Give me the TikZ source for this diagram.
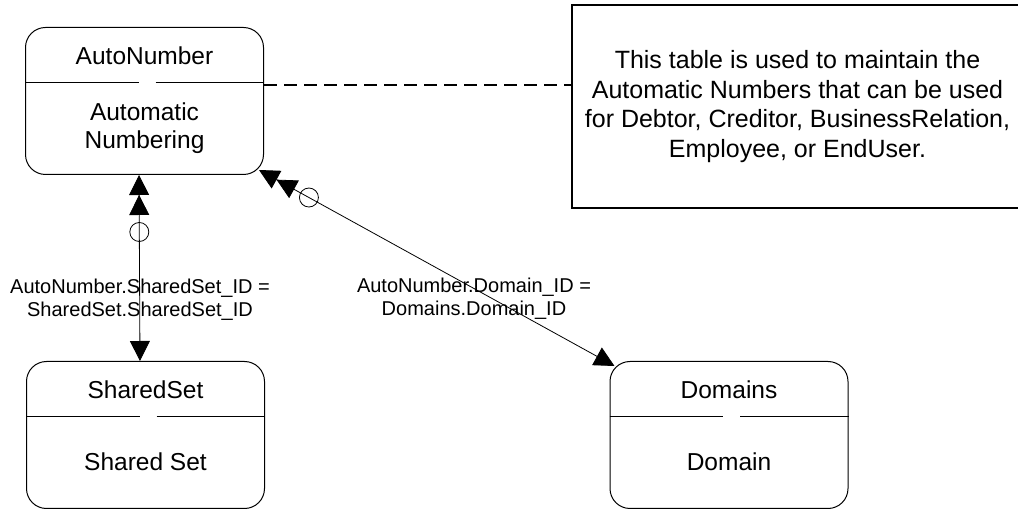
\documentclass[tikz,border=0pt]{standalone}
\usepackage{fontspec}
\setmainfont{Liberation Sans}
\usetikzlibrary{arrows.meta,calc}

\newcommand{\entfont}{\fontsize{24.5}{28.3}\selectfont}
\newcommand{\notefont}{\fontsize{25}{29.5}\selectfont}
\newcommand{\relfont}{\fontsize{20}{23}\selectfont}

\tikzset{
  entity/.style={draw, line width=1pt, rounded corners=20pt, minimum width=238pt, minimum height=147pt},
  enttext/.style={align=center, inner sep=0pt, font=\entfont},
  note/.style={draw, line width=1.2pt, minimum width=451pt, minimum height=203pt, align=center, font=\notefont},
  rel/.style={line width=0.8pt, >={Triangle[width=20pt,length=20pt]}, <->>},
  ring/.style={draw, circle, line width=0.8pt, minimum size=19pt, inner sep=0pt},
  rellabel/.style={align=center, inner sep=0pt, font=\relfont},
  noteline/.style={line width=1.6pt, dash pattern=on 13pt off 7pt}
}

\begin{document}
\begin{tikzpicture}[x=1pt,y=-1pt]
  \useasboundingbox (0,0) rectangle (1018,510);

  % tables
  \node[entity] (auto) at (144.5,101) {};
  \node[entity] (shared) at (145.5,435) {};
  \node[entity] (dom) at (729,435) {};

  \node[enttext] (autohead) at ($(auto.north)+(0,29)$) {AutoNumber};
  \node[enttext] (autobody) at ($(auto.north)+(0,101)$) {Automatic\\Numbering};
  \node[enttext] (sharedhead) at ($(shared.north)+(0,29)$) {SharedSet};
  \node[enttext] (sharedbody) at ($(shared.north)+(0,101)$) {Shared Set};
  \node[enttext] (domhead) at ($(dom.north)+(0,29)$) {Domains};
  \node[enttext] (dombody) at ($(dom.north)+(0,101)$) {Domain};

  % split lines with the small gap
  \foreach \e in {auto,shared,dom} {
    \draw[line width=0.8pt] ($(\e.north west)+(0,55)$) -- ($(\e.north)+(-6,55)$);
    \draw[line width=0.8pt] ($(\e.north)+(11,55)$) -- ($(\e.north east)+(0,55)$);
  }

  % comment box
  \node[note] (note) at (797.5,106.5) {This table is used to maintain the\\Automatic Numbers that can be used\\for Debtor, Creditor, BusinessRelation,\\Employee, or EndUser.};
  \coordinate (autonote) at ([shift={(0,-16)}]auto.east);
  \draw[noteline] (autonote) -- (autonote -| note.west);

  % relations
  \coordinate (sharedend) at ([shift={(-5.5,0)}]shared.north);
  \coordinate (autoshared) at ([shift={(-5.5,0)}]auto.south);
  \coordinate (domend) at ([shift={(5,5)}]dom.north west);
  \coordinate (autodom) at ([shift={(-5,-5)}]auto.south east);

  \draw[rel] (sharedend) -- (autoshared);
  \draw[rel] (domend) -- (autodom);
  \node[ring] (ringshared) at ($(autoshared)!57pt!(sharedend)$) {};
  \node[ring] (ringdom) at ($(autodom)!57pt!(domend)$) {};

  \node[rellabel] (labshared) at (140,299.5) {AutoNumber.SharedSet\_ID =\\SharedSet.SharedSet\_ID};
  \node[rellabel] (labdom) at (474,299) {AutoNumber.Domain\_ID =\\Domains.Domain\_ID};
\end{tikzpicture}
\end{document}
